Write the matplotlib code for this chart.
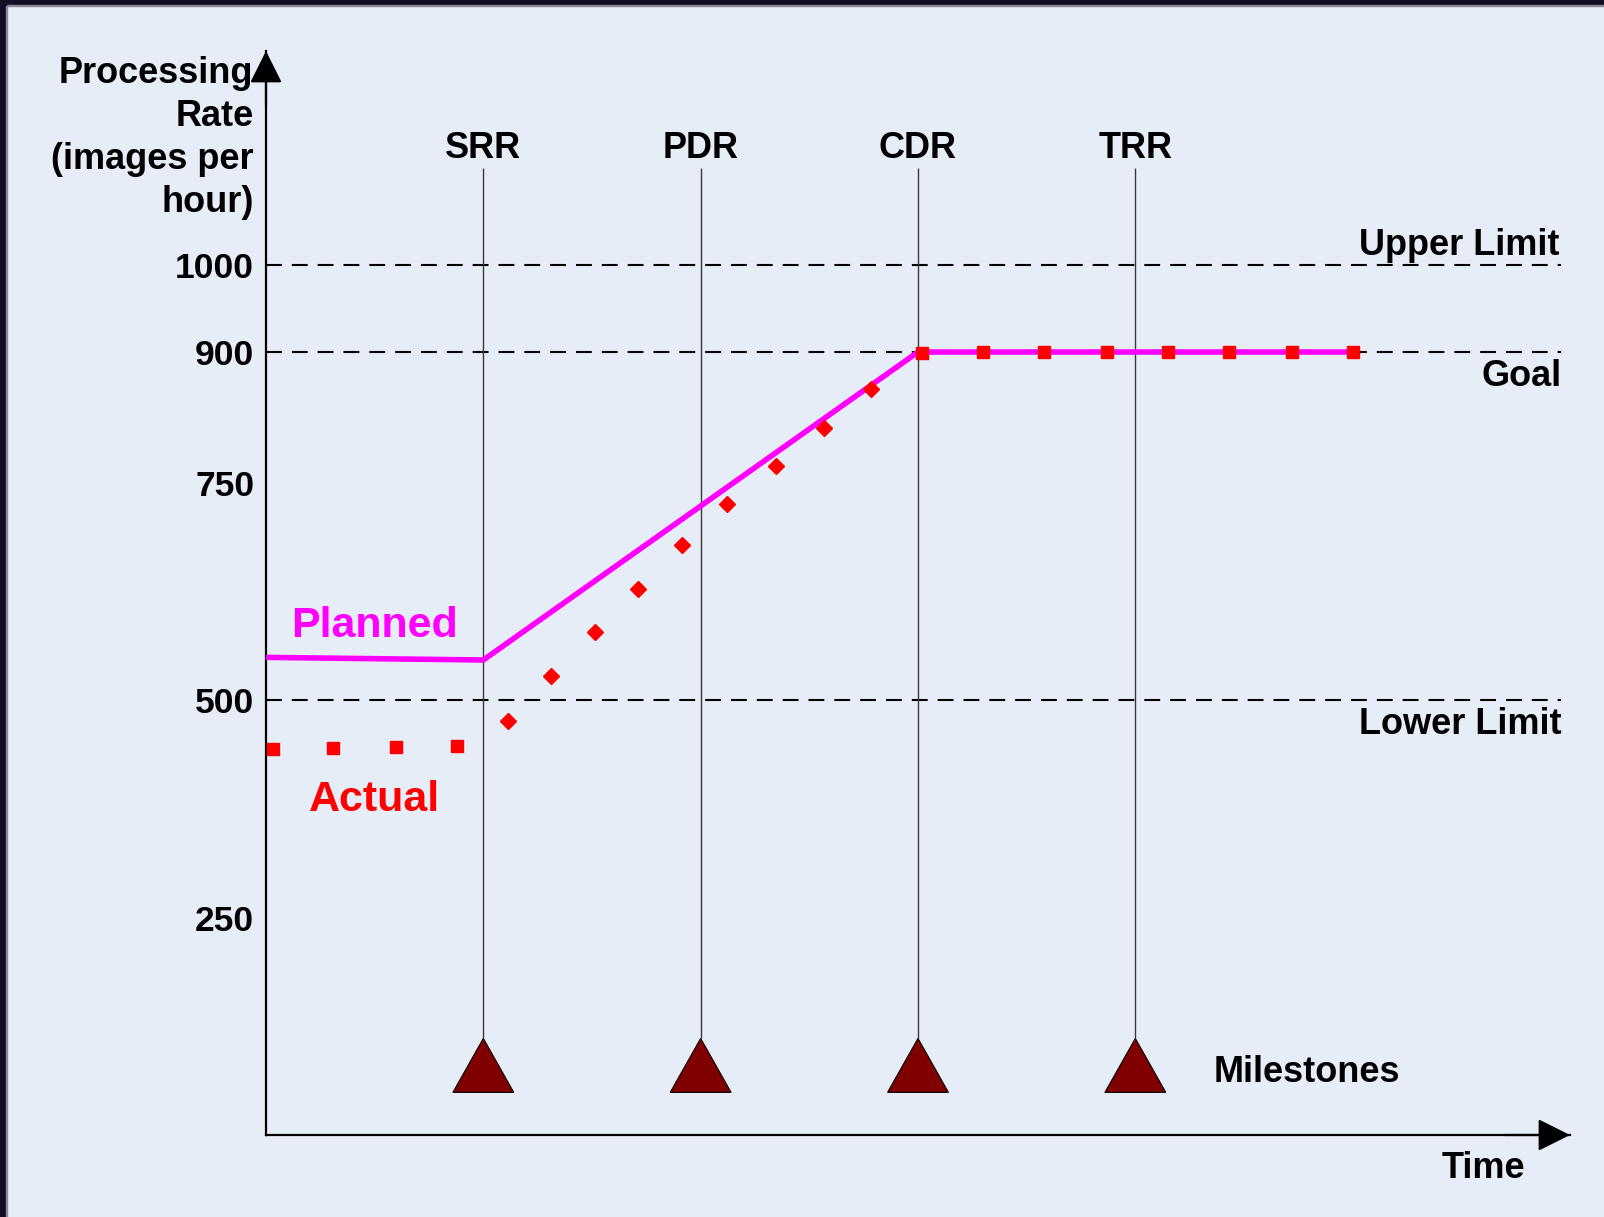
import matplotlib.pyplot as plt
from matplotlib.patches import Rectangle

plt.rcParams['font.family'] = ['Liberation Sans', 'DejaVu Sans']
plt.rcParams['font.weight'] = 'bold'

# review milestones, one per time unit
milestones = ['SRR', 'PDR', 'CDR', 'TRR']
milestone_t = [1, 2, 3, 4]

# reference levels in images per hour
levels = [1000, 900, 500]
level_names = ['Upper Limit', 'Goal', 'Lower Limit']
yticks = [250, 500, 750, 900, 1000]

# planned processing rate
planned_t = [0, 1, 3, 5]
planned_rate = [549, 546, 900, 900]

# measured rate: early plateau, ramp-up, then at goal
early_t = [0.03, 0.31, 0.60, 0.88]
early_rate = [444, 445, 446, 447]
ramp_t = [1.115, 1.313, 1.515, 1.713, 1.915, 2.122, 2.348, 2.569, 2.786]
ramp_rate = [476, 528, 578, 628, 678, 725, 769, 813, 858]
late_t = [3.02, 3.30, 3.58, 3.87, 4.15, 4.43, 4.72, 5.00]
late_rate = [899, 900, 900, 900, 900, 900, 900, 900]

bg = '#e7edf7'
W, H = 1604, 1217
fig = plt.figure(figsize=(W / 100, H / 100), dpi=100, facecolor=bg)

# dark frame on top and left
fig.patches.append(Rectangle((0, 1 - 5 / H), 1, 5 / H, transform=fig.transFigure,
                             color='#100e24', zorder=10))
fig.patches.append(Rectangle((0, 1 - 6 / H), 1, 1 / H, transform=fig.transFigure,
                             color='#8a8a96', zorder=10))
fig.patches.append(Rectangle((0, 0), 6 / W, 1, transform=fig.transFigure,
                             color='#100e24', zorder=11))
fig.patches.append(Rectangle((6 / W, 0), 1 / W, 1 - 6 / H, transform=fig.transFigure,
                             color='#8a8a96', zorder=11))

x0, x1 = 266, 1570
y0, y1 = 1135, 51
ax = fig.add_axes([x0 / W, 1 - y0 / H, (x1 - x0) / W, (y0 - y1) / H])
ax.set_facecolor('none')
ax.set_xlim(0, 6)
ax.set_ylim(0, 1246)
for s in ['top', 'right']:
    ax.spines[s].set_visible(False)
for s in ['left', 'bottom']:
    ax.spines[s].set_linewidth(1.6)
    ax.spines[s].set_color('black')
ax.set_xticks([])
ax.set_yticks(yticks)
ax.set_yticklabels([str(v) for v in yticks])
ax.tick_params(axis='y', length=0, pad=8.5, labelsize=25.5)

# axis arrowheads
arrow = dict(arrowstyle='-|>,head_length=0.4,head_width=0.2', color='black',
             lw=1.6, mutation_scale=50, shrinkA=0, shrinkB=0)
ax.annotate('', xy=(1, 0), xycoords='axes fraction', xytext=(0.95, 0),
            arrowprops=arrow, annotation_clip=False)
ax.annotate('', xy=(0, 1), xycoords='axes fraction', xytext=(0, 0.95),
            arrowprops=arrow, annotation_clip=False)

# reference levels
ax.hlines(levels, 0, 5.96, colors='black', lw=1.5, linestyles=(0, (7.6, 4.8)), zorder=1)
ax.text(5.95, levels[0] + 22, level_names[0], ha='right', va='center', fontsize=26)
ax.text(5.96, levels[1] - 28, level_names[1], ha='right', va='center', fontsize=26)
ax.text(5.96, levels[2] - 28, level_names[2], ha='right', va='center', fontsize=26)

# milestones
tri_base, tri_top, tri_half = 49, 111, 0.14
ax.vlines(milestone_t, tri_top, 1111, colors='#3a3a3a', lw=1, zorder=2)
for t, name in zip(milestone_t, milestones):
    ax.fill([t - tri_half, t + tri_half, t], [tri_base, tri_base, tri_top],
            facecolor='#800000', edgecolor='black', lw=0.8, zorder=3)
    ax.text(t, 1134, name, ha='center', va='center', fontsize=26)
ax.text(4.36, 72, 'Milestones', ha='left', va='center', fontsize=26)

# planned vs actual
ax.plot(planned_t, planned_rate, color='#ff00ff', lw=4, zorder=4,
        solid_capstyle='round')
ax.plot(early_t + late_t, early_rate + late_rate, 's', color='#ff0000', ms=9,
        mec='#ff0000', zorder=5)
ax.plot(ramp_t, ramp_rate, 'D', color='#ff0000', ms=8, mec='#ff0000', zorder=5)
ax.text(0.50, 585, 'Planned', color='#ff00ff', ha='center', va='center', fontsize=31)
ax.text(0.50, 385, 'Actual', color='#ff0000', ha='center', va='center', fontsize=31)

# axis titles
ax.text(-0.057, 1146, 'Processing\nRate\n(images per\nhour)', ha='right', va='center',
        multialignment='right', fontsize=26, linespacing=1.3)
ax.text(5.6, -38, 'Time', ha='center', va='center', fontsize=26)

fig.savefig('out.png', dpi=100, facecolor=bg)
